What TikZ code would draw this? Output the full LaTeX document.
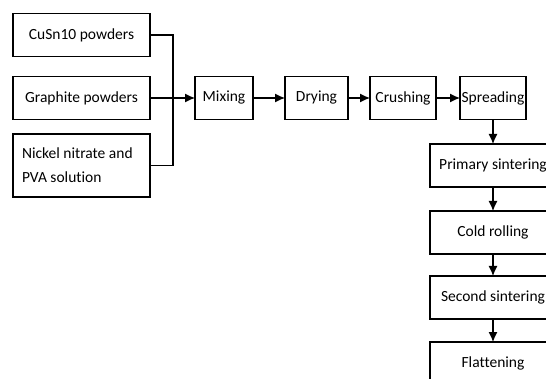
\documentclass[tikz,border=0pt]{standalone}
\usepackage{fontspec}
\setmainfont{Carlito}[Ligatures=NoCommon]
\usetikzlibrary{arrows.meta,positioning}
\tikzset{
    %Define standard arrow tip
    >={Latex[length=10pt,width=9pt]},
    %Define style for boxes
    stagebox/.style={
           rectangle,
           draw=black, line width=1.2pt,
           minimum height=43pt,
           inner sep=0pt, outer sep=0pt,
           font=\fontsize{15.5}{19}\selectfont,
           text centered},
    inputbox/.style={
           stagebox,
           minimum width=137pt},
    % Define arrow style
    pil/.style={
           ->,
           line width=1.2pt},
    link/.style={
           line width=1.2pt}
}

\begin{document}
\begin{tikzpicture}[x=1pt,y=1pt]
 \path[use as bounding box,clip] (0,0) rectangle (546,-379);
 %nodes
 \node[inputbox](graph) at (81.5,-98){Graphite powders};
 \node[inputbox, above=20pt of graph](cusn){CuSn10 powders};
 \node[inputbox, below=14.5pt of graph, minimum height=63pt, inner xsep=9pt,
   text width=119pt, align=flush left, font=\fontsize{15.5}{24}\selectfont](nickel){Nickel nitrate and\\PVA solution};
 \node[stagebox, right=45pt of graph, minimum width=58pt](mix){Mixing};
 \node[stagebox, right=32pt of mix, minimum width=63pt](dry){Drying};
 \node[stagebox, right=22pt of dry, minimum width=66pt](crush){Crushing};
 \node[stagebox, right=24pt of crush, minimum width=66pt](spread){Spreading};
 \node[stagebox, below=24.5pt of spread, minimum width=126pt](primary){Primary sintering};
 \node[stagebox, below=24pt of primary, minimum width=126pt](cold){Cold rolling};
 \node[stagebox, below=22pt of cold, minimum width=126pt](second){Second sintering};
 \node[stagebox, below=23pt of second, minimum width=126pt](flat){Flattening};
 %connectors
 \draw[link] (cusn.east) -- ++(23,0) |- (nickel.east);
 \draw[pil] (graph) -- (mix);
 \draw[pil] (mix) -- (dry);
 \draw[pil] (dry) -- (crush);
 \draw[pil] (crush) -- (spread);
 \draw[pil] (spread) -- (primary);
 \draw[pil] (primary) -- (cold);
 \draw[pil] (cold) -- (second);
 \draw[pil] (second) -- (flat);
\end{tikzpicture}
\end{document}
